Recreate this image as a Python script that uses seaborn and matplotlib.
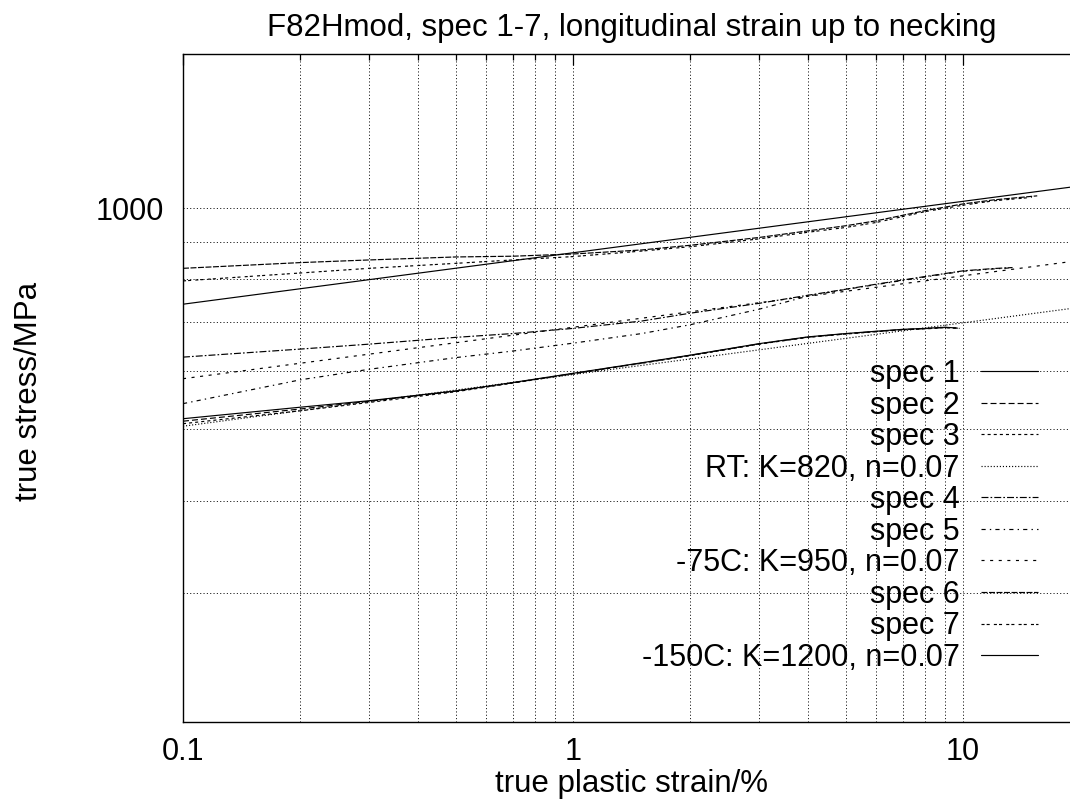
import numpy as np
import pandas as pd
import matplotlib
matplotlib.use("Agg")
import matplotlib.pyplot as plt
import seaborn as sns
from matplotlib.ticker import FixedLocator, FixedFormatter, NullFormatter

# ---------------- data ----------------
# room temperature group
spec1_x = [0.1, 0.2, 0.3, 0.5, 0.7, 1, 1.5, 2, 3, 4, 5, 6, 7, 8, 9, 9.6]
spec1_y = [517, 536, 547, 564, 579, 596, 616, 631, 654, 668, 675, 680, 684, 686, 688.5, 687]
spec2_x = [0.1, 0.2, 0.3, 0.5, 0.7, 1, 1.5, 2, 3, 4, 5, 6, 7, 8, 9, 9.7]
spec2_y = [513, 533, 546, 563.5, 578.5, 595.5, 615.5, 630.5, 653.5, 667.5, 674.5, 679.5, 683.5, 685.5, 688, 686.5]
spec3_x = [0.1, 0.2, 0.3, 0.5, 0.7, 1, 1.5, 2, 3, 4, 5, 6, 7, 8, 9, 9.8]
spec3_y = [509, 530, 544, 562.5, 578, 595, 615, 630, 653, 667, 674, 679, 683, 685, 687.5, 686]
# -75C group
spec4_x = [0.1, 0.2, 0.3, 0.5, 0.7, 1, 1.5, 2, 3, 4, 5, 6, 8, 10, 12, 13.4]
spec4_y = [627, 643, 653, 667, 675, 686, 702, 719.5, 742, 761, 775.5, 788, 807, 821.5, 827.5, 830]
spec5_x = [0.1, 0.2, 0.3, 0.5, 0.7, 1, 1.5, 2, 3, 4, 5, 6, 8, 10, 12, 13.2]
spec5_y = [542, 584, 603.5, 626, 639, 655, 675, 694, 728.5, 759, 775, 787, 806, 820.5, 826.5, 829]
# -150C group
spec6_x = [0.1, 0.2, 0.3, 0.5, 0.7, 1, 1.5, 2, 3, 4, 5, 6, 8, 10, 12, 15.5]
spec6_y = [828, 843, 850, 858, 860, 866, 877, 890, 912, 931, 946, 961, 992, 1013, 1026, 1039]
spec7_x = [0.1, 0.2, 0.3, 0.5, 0.7, 1, 1.5, 2, 3, 4, 5, 6, 8, 10, 12, 15.0]
spec7_y = [796, 816, 828, 841, 850, 859, 874, 886, 908, 927, 941, 956, 989, 1009, 1023, 1034]
# fitted power laws (straight lines in log-log), end points
fit_x = [0.1, 20]
rt_fit_y = [505, 733]
m75_fit_y = [586, 849]
m150_fit_y = [740, 1072]

labels = ["spec 1", "spec 2", "spec 3", "RT: K=820, n=0.07",
          "spec 4", "spec 5", "-75C: K=950, n=0.07",
          "spec 6", "spec 7", "-150C: K=1200, n=0.07"]

x_major = [0.1, 1, 10]
x_major_labels = ["0.1", "1", "10"]
y_major = [1000]
y_major_labels = ["1000"]
x_minor = [0.2, 0.3, 0.4, 0.5, 0.6, 0.7, 0.8, 0.9, 2, 3, 4, 5, 6, 7, 8, 9]
y_minor = [200, 300, 400, 500, 600, 700, 800, 900]

# ---------------- styling ----------------
sns.set_theme(style="white")
plt.rcParams['font.family'] = ['Liberation Sans', 'DejaVu Sans']
plt.rcParams['lines.scale_dashes'] = False
plt.rcParams['text.color'] = 'black'

FS = 22
FS_LAB = 22.5
fig = plt.figure(figsize=(10.7, 8.06), dpi=100)
px_l, px_r, px_t, px_b = 183, 1080.4, 54, 722
ax = fig.add_axes([px_l / 1070, 1 - px_b / 806, (px_r - px_l) / 1070, (px_b - px_t) / 806])
ax.set_xscale('log')
ax.set_yscale('log')

series = [
    (spec1_x, spec1_y, '-'),
    (spec2_x, spec2_y, (0, (4.3, 2.2))),
    (spec3_x, spec3_y, (0, (2.2, 2.2))),
    (fit_x, rt_fit_y, (0, (0.8, 1.4))),
    (spec4_x, spec4_y, (0, (5, 1.5, 1.2, 1.5))),
    (spec5_x, spec5_y, (0, (3, 3, 1, 3))),
    (fit_x, m75_fit_y, (0, (2.2, 4.0))),
    (spec6_x, spec6_y, (0, (4.3, 1.1))),
    (spec7_x, spec7_y, (0, (2.2, 1.5, 2.2, 3.0))),
    (fit_x, m150_fit_y, '-'),
]

for (xs, ys, ls), lab in zip(series, labels):
    df = pd.DataFrame({"strain": xs, "stress": ys})
    sns.lineplot(data=df, x="strain", y="stress", ax=ax, color='black',
                 linewidth=0.85, linestyle=ls, label=lab, sort=True)

ax.set_xlim(0.1, 20)
ax.set_ylim(200, 1620)

ax.xaxis.set_major_locator(FixedLocator(x_major))
ax.xaxis.set_major_formatter(FixedFormatter(x_major_labels))
ax.xaxis.set_minor_locator(FixedLocator(x_minor))
ax.xaxis.set_minor_formatter(NullFormatter())
ax.yaxis.set_major_locator(FixedLocator(y_major))
ax.yaxis.set_major_formatter(FixedFormatter(y_major_labels))
ax.yaxis.set_minor_locator(FixedLocator(y_minor))
ax.yaxis.set_minor_formatter(NullFormatter())

ax.grid(True, which='both', color='0.1', linestyle=(0, (0.8, 1.6)), linewidth=0.7)
ax.set_axisbelow(True)

ax.tick_params(which='both', direction='in', top=True, right=True, color='black',
               labelsize=FS, labelcolor='black')
ax.tick_params(which='major', length=8, width=0.9)
ax.tick_params(which='minor', length=4, width=0.9)
ax.tick_params(axis='x', which='major', pad=11)
ax.tick_params(axis='y', which='major', pad=14)

for s in ax.spines.values():
    s.set_color('black')
    s.set_linewidth(1.0)

ax.set_xlabel("true plastic strain/%", fontsize=FS_LAB, color='black', va='center')
ax.xaxis.set_label_coords(0.5, -(784 - px_b) / (px_b - px_t))
ax.set_ylabel("true stress/MPa", fontsize=FS_LAB, color='black', va='center')
ax.yaxis.set_label_coords(-(183 - 29) / (px_r - px_l), (px_b - 391) / (px_b - px_t))
ax.set_title("F82Hmod, spec 1-7, longitudinal strain up to necking", fontsize=FS_LAB,
             color='black', x=0.5,
             y=(px_b - 28) / (px_b - px_t), va='center', pad=0)

leg = ax.legend(loc='upper right', bbox_to_anchor=(1038 / 1070, 1 - 359 / 806),
                bbox_transform=fig.transFigure, frameon=False, markerfirst=False,
                fontsize=FS, handlelength=1.85, handletextpad=0.72, labelspacing=0.05,
                borderpad=0, borderaxespad=0)
for t in leg.get_texts():
    t.set_color('black')

fig.savefig("out.png", dpi=100)
